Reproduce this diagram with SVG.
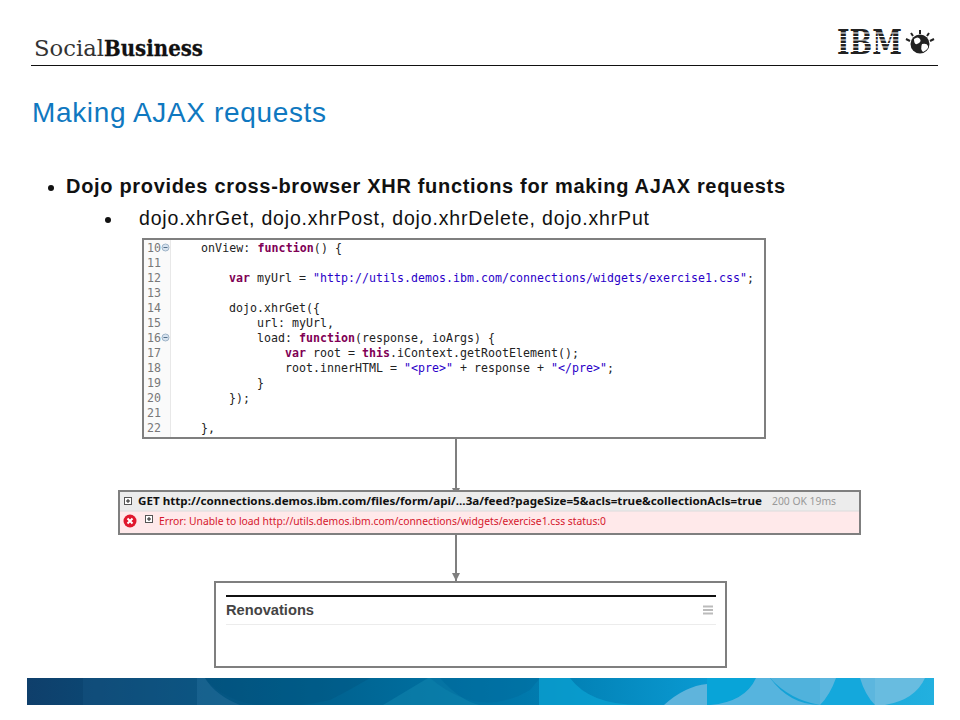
<svg xmlns="http://www.w3.org/2000/svg" width="960" height="720" viewBox="0 0 960 720">
<style>
.s{font-family:"Liberation Sans",Arial,sans-serif}
.c{font-family:"DejaVu Sans Mono","Liberation Mono",monospace;font-size:11.6px;fill:#222;white-space:pre}
.n{fill:#787878}.k{fill:#7f0055;font-weight:bold}.t{fill:#2a00c8}
.b{fill:#fff;stroke:#7f7f7f;stroke-width:2}
.e{font-family:"Noto Sans","Liberation Sans",sans-serif}
.pm{fill:#fff;stroke:#555;stroke-width:1}
.pl{stroke:#222;stroke-width:1;fill:none}
.cn{stroke:#7f7f7f;stroke-width:2;fill:none;marker-end:url(#ah)}
</style>
<defs>
<marker id="ah" markerUnits="userSpaceOnUse" markerWidth="8" markerHeight="8" refX="8" refY="4" orient="auto"><path d="M0 0L8 4L0 8Z" fill="#7f7f7f"/></marker>
<linearGradient id="g" x1="0" x2="1" y1="0" y2="0"><stop offset="0" stop-color="#0f3f6b"/><stop offset=".3" stop-color="#005f8c"/><stop offset=".55" stop-color="#0079ac"/><stop offset=".75" stop-color="#0a9ad2"/><stop offset="1" stop-color="#22b0df"/></linearGradient>
<clipPath id="bc"><rect x="27" y="678" width="907" height="27"/></clipPath>
</defs>
<rect width="960" height="720" fill="#fff"/>

<g id="header">
<text x="34" y="56" font-family="'DejaVu Serif','Liberation Serif',serif" font-size="23" fill="#333" textLength="70" lengthAdjust="spacingAndGlyphs">Social</text>
<text x="104" y="56" font-family="'DejaVu Serif','Liberation Serif',serif" font-weight="bold" font-size="23" fill="#111" stroke="#111" stroke-width=".3" textLength="99" lengthAdjust="spacingAndGlyphs">Business</text>
<line x1="31" y1="65.500" x2="938" y2="65.500" stroke="#111" stroke-width="1"/>
<g id="ibm-logo">
<text x="837" y="54" font-family="'DejaVu Serif','Liberation Serif',serif" font-weight="bold" font-size="33" fill="#222" textLength="65" lengthAdjust="spacingAndGlyphs">IBM</text>
<path d="M836 33H904M836 36.500H904M836 40H904M836 43.500H904M836 47H904M836 50.500H904" stroke="#fff" stroke-width="1.200"/>
<circle cx="920" cy="44" r="9.500" fill="#222"/>
<path d="M914 39q4-3 6 0t-3 5q-3 1-3-5M922 44q5-1 6 2t-5 6q-3-3-1-8" fill="#fff"/>
<path d="M920 30V34M911 33L913 36M929 33L927 36M906 39L910 41M934 39L930 41" stroke="#222" stroke-width="2"/>
</g>
</g>

<text x="32" y="122" class="s" font-size="28" fill="#0f78c0" textLength="294">Making AJAX requests</text>

<g id="bullets">
<circle cx="51" cy="188" r="3" fill="#111"/>
<text x="66" y="193" class="s" font-size="20" font-weight="bold" fill="#111" textLength="719">Dojo provides cross-browser XHR functions for making AJAX requests</text>
<circle cx="108" cy="220" r="3" fill="#111"/>
<text x="139" y="225" class="s" font-size="19.500" fill="#111" textLength="510">dojo.xhrGet, dojo.xhrPost, dojo.xhrDelete, dojo.xhrPut</text>
</g>

<g id="connectors">
<line class="cn" x1="456" y1="438" x2="456" y2="496"/>
<line class="cn" x1="456" y1="534" x2="456" y2="581"/>
</g>

<g id="code-node">
<rect class="b" x="143" y="239" width="622" height="199"/>
<rect x="144" y="240" width="26" height="197" fill="#fafafa"/>
<line x1="170.500" y1="240" x2="170.500" y2="437" stroke="#e8e8e8"/>
<g class="c">
<text class="n" x="147" y="252">10</text><text class="n" x="147" y="267">11</text><text class="n" x="147" y="282">12</text><text class="n" x="147" y="297">13</text><text class="n" x="147" y="312">14</text><text class="n" x="147" y="327">15</text><text class="n" x="147" y="342">16</text><text class="n" x="147" y="357">17</text><text class="n" x="147" y="372">18</text><text class="n" x="147" y="387">19</text><text class="n" x="147" y="402">20</text><text class="n" x="147" y="417">21</text><text class="n" x="147" y="432">22</text>
<text x="201" y="252" textLength="141">onView: <tspan class="k">function</tspan>() {</text>
<text x="229" y="282" textLength="525"><tspan class="k">var</tspan> myUrl = <tspan class="t">"http://utils.demos.ibm.com/connections/widgets/exercise1.css"</tspan>;</text>
<text x="229" y="312" textLength="91">dojo.xhrGet({</text>
<text x="257" y="327" textLength="77">url: myUrl,</text>
<text x="257" y="342" textLength="238">load: <tspan class="k">function</tspan>(response, ioArgs) {</text>
<text x="285" y="357" textLength="294"><tspan class="k">var</tspan> root = <tspan class="k">this</tspan>.iContext.getRootElement();</text>
<text x="285" y="372" textLength="329">root.innerHTML = <tspan class="t">"&lt;pre&gt;"</tspan> + response + <tspan class="t">"&lt;/pre&gt;"</tspan>;</text>
<text x="257" y="387">}</text>
<text x="229" y="402" textLength="21">});</text>
<text x="201" y="432" textLength="14">},</text>
</g>
<circle cx="165.500" cy="247.500" r="3.500" fill="#d8e4f0" stroke="#9fb4c8"/>
<line x1="163.500" y1="247.500" x2="167.500" y2="247.500" stroke="#55708a"/>
<circle cx="165.500" cy="337.500" r="3.500" fill="#d8e4f0" stroke="#9fb4c8"/>
<line x1="163.500" y1="337.500" x2="167.500" y2="337.500" stroke="#55708a"/>
</g>

<g id="console-node">
<rect class="b" x="119" y="491" width="741" height="43"/>
<rect x="120" y="492" width="739" height="19" fill="#ececec"/>
<rect x="120" y="511" width="739" height="22" fill="#ffe9ea"/>
<line x1="120" y1="511" x2="859" y2="511" stroke="#dcdcdc"/>
<rect class="pm" x="124.500" y="497.500" width="7" height="7"/>
<path class="pl" d="M126 501H130M128 499V503"/>
<text x="138" y="505" class="e" font-size="11.300" font-weight="bold" fill="#111" textLength="624" lengthAdjust="spacingAndGlyphs">GET http://connections.demos.ibm.com/files/form/api/...3a/feed?pageSize=5&amp;acls=true&amp;collectionAcls=true</text>
<text x="772" y="505" class="e" font-size="10.500" fill="#999" textLength="64" lengthAdjust="spacingAndGlyphs">200 OK 19ms</text>
<circle cx="130" cy="521" r="6.500" fill="#e0182d"/>
<path d="M127.500 518.500L132.500 523.500M132.500 518.500L127.500 523.500" stroke="#fff" stroke-width="2"/>
<rect class="pm" x="145.500" y="515.500" width="7" height="7"/>
<path class="pl" d="M147 519H151M149 517V521"/>
<text x="159" y="525" class="e" font-size="11" fill="#d5172c" textLength="447" lengthAdjust="spacingAndGlyphs">Error: Unable to load http://utils.demos.ibm.com/connections/widgets/exercise1.css status:0</text>
</g>

<g id="widget-node">
<rect class="b" x="215" y="582" width="511" height="85"/>
<line x1="226" y1="596" x2="716" y2="596" stroke="#111" stroke-width="2"/>
<text x="226" y="615" class="s" font-size="14" font-weight="bold" fill="#444" textLength="88" lengthAdjust="spacingAndGlyphs">Renovations</text>
<path d="M703 606.500H713M703 610H713M703 613.500H713" stroke="#bbb" stroke-width="2"/>
<line x1="226" y1="624.500" x2="716" y2="624.500" stroke="#ececec"/>
</g>

<g id="banner" clip-path="url(#bc)">
<rect x="27" y="678" width="907" height="27" fill="url(#g)"/>
<path d="M83 678H197V705H83Z" fill="#1b5a88" opacity=".35"/>
<path d="M197 678V705H240Q215 695 205 678Z" fill="#2a6f9c" opacity=".5"/>
<path d="M205 678Q240 720 330 700Q350 690 370 678Z" fill="#004f7c" opacity=".3"/>
<path d="M383 705L428 678H440Q470 712 500 705Z" fill="#1188b0" opacity=".5"/>
<path d="M430 678Q480 720 530 690L540 678Z" fill="#006a9c" opacity=".4"/>
<path d="M539 678H570Q590 705 640 705H539Z" fill="#0ba4d4" opacity=".7"/>
<path d="M664 705Q685 686 707 684V705Z" fill="#5fb4dc"/>
<path d="M707 678H756Q745 702 710 705H707Z" fill="#08a4d8"/>
<path d="M710 705Q745 702 756 678H770Q790 705 820 705Z" fill="#56b4de"/>
<path d="M770 678H820V705Q790 700 770 678Z" fill="#50b2dc"/>
<rect x="820" y="678" width="55" height="27" fill="#14a8dc"/>
<path d="M820 678H836Q830 695 820 705ZM875 678H860Q865 695 875 705Z" fill="#5cb6de"/>
<path d="M875 678H925Q915 700 885 705H875Z" fill="#68bce0"/>
</g>
</svg>
